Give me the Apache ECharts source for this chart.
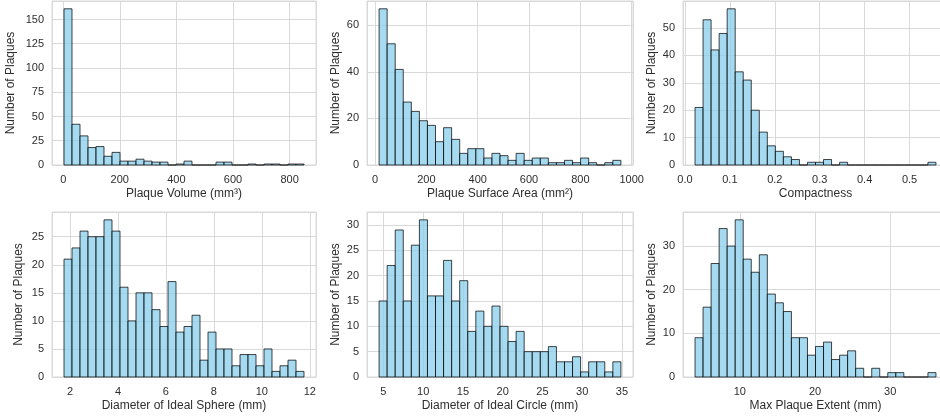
<!DOCTYPE html>
<html>
<head>
<meta charset="utf-8">
<script src="https://cdn.jsdelivr.net/npm/echarts@6/dist/echarts.min.js"></script>
<style>
html, body { margin: 0; padding: 0; background: #fff; }
#chart { width: 940px; height: 418px; }
</style>
</head>
<body>
<div id="chart"></div>
<script>
// 30-bin histograms, counts
// [first bin edge, last bin edge]
const volumeRange = [2.8, 851];
const volumeCounts = [161, 42, 30, 18, 19, 9, 13, 4, 4, 6, 4, 3, 3, 0, 1, 4, 0, 0, 0, 3, 3, 0, 0, 1, 0, 1, 1, 0, 1, 1];

const areaRange = [15.7, 958];
const areaCounts = [67, 52, 41, 27, 23, 19, 17, 10, 16, 11, 5, 7, 7, 3, 5, 4, 2, 5, 2, 3, 3, 1, 1, 2, 1, 3, 1, 0, 1, 2];

const compactRange = [0.0225, 0.5588];
const compactCounts = [21, 53, 42, 48, 57, 34, 31, 20, 12, 7, 5, 3, 2, 0, 1, 1, 2, 0, 1, 0, 0, 0, 0, 0, 0, 0, 0, 0, 0, 1];

const sphereRange = [1.75, 11.76];
const sphereCounts = [21, 23, 26, 25, 25, 28, 26, 16, 10, 15, 15, 12, 9, 17, 8, 9, 11, 3, 8, 5, 5, 2, 4, 4, 2, 5, 1, 2, 3, 1];

const circleRange = [4.46, 34.87];
const circleCounts = [15, 22, 29, 15, 26, 31, 16, 16, 23, 15, 19, 9, 13, 10, 14, 10, 7, 9, 5, 5, 5, 6, 3, 3, 4, 1, 3, 3, 1, 3];

const extentRange = [4.04, 36.09];
const extentCounts = [9, 16, 26, 34, 30, 36, 27, 24, 28, 19, 17, 15, 9, 9, 5, 7, 8, 4, 5, 6, 2, 0, 2, 0, 1, 1, 0, 0, 0, 1];

const xTitles = ['Plaque Volume (mm³)', 'Plaque Surface Area (mm²)', 'Compactness',
  'Diameter of Ideal Sphere (mm)', 'Diameter of Ideal Circle (mm)', 'Max Plaque Extent (mm)'];
const yTitle = 'Number of Plaques';
const yStep = [25, 20, 10, 5, 5, 10];

// layout
const panels = [
  { counts: volumeCounts, range: volumeRange, left: 52, top: 1, width: 264, height: 164, gap: 35, dec: 0 },
  { counts: areaCounts, range: areaRange, left: 367, top: 1, width: 266, height: 164, gap: 25, dec: 0 },
  { counts: compactCounts, range: compactRange, left: 683, top: 1, width: 265, height: 164, gap: 25, dec: 1 },
  { counts: sphereCounts, range: sphereRange, left: 52, top: 212, width: 264, height: 165, gap: 27, dec: 0 },
  { counts: circleCounts, range: circleRange, left: 367, top: 212, width: 266, height: 165, gap: 25, dec: 0 },
  { counts: extentCounts, range: extentRange, left: 683, top: 212, width: 265, height: 165, gap: 25, dec: 0 }
];

const textColor = '#2e2e2e';
const gridColor = '#d9d9d9';
const font = 'Liberation Sans, Arial, sans-serif';

const grid = [], xAxis = [], yAxis = [], series = [];

panels.forEach((p, i) => {
  const lo = p.range[0], hi = p.range[1];
  const w = (hi - lo) / p.counts.length;
  const pad = (hi - lo) * 0.05;
  const yMax = Math.max(...p.counts) * 1.05;

  grid.push({
    left: p.left, top: p.top, width: p.width, height: p.height,
    show: true, borderColor: gridColor, borderWidth: 1, backgroundColor: '#fff',
    containLabel: false, outerBoundsMode: 'none'
  });

  xAxis.push({
    type: 'value', gridIndex: i,
    min: lo - pad, max: hi + pad,
    name: xTitles[i], nameLocation: 'middle', nameGap: 23,
    nameTextStyle: { color: textColor, fontSize: 12, fontFamily: font },
    axisLine: { show: false }, axisTick: { show: false },
    axisLabel: {
      color: textColor, fontSize: 11, fontFamily: font, margin: 9,
      showMinLabel: false, showMaxLabel: false,
      formatter: v => p.dec ? v.toFixed(p.dec) : String(Math.round(v))
    },
    splitLine: { show: true, lineStyle: { color: gridColor, width: 1 } }
  });

  yAxis.push({
    type: 'value', gridIndex: i,
    min: 0, max: yMax, interval: yStep[i],
    name: yTitle, nameLocation: 'middle', nameGap: p.gap,
    nameTextStyle: { color: textColor, fontSize: 12, fontFamily: font },
    axisLine: { show: false }, axisTick: { show: false },
    axisLabel: {
      color: textColor, fontSize: 11, fontFamily: font, margin: 8,
      showMaxLabel: false,
      formatter: v => String(Math.round(v))
    },
    splitLine: { show: true, lineStyle: { color: gridColor, width: 1 } }
  });

  const data = p.counts.map((c, k) => [lo + k * w, lo + (k + 1) * w, c]);

  series.push({
    type: 'custom', xAxisIndex: i, yAxisIndex: i,
    data: data,
    encode: { x: [0, 1], y: 2 },
    renderItem: (params, api) => {
      const a = api.coord([api.value(0), 0]);
      const b = api.coord([api.value(1), api.value(2)]);
      return {
        type: 'rect',
        shape: { x: a[0], y: b[1], width: b[0] - a[0], height: a[1] - b[1] },
        style: { fill: 'rgba(135,206,235,0.75)', stroke: 'rgba(0,0,0,0.72)', lineWidth: 1 }
      };
    }
  });
});

const chart = echarts.init(document.getElementById('chart'), null, { renderer: 'canvas' });
chart.setOption({
  animation: false,
  backgroundColor: '#fff',
  grid: grid,
  xAxis: xAxis,
  yAxis: yAxis,
  series: series
});
</script>
</body>
</html>
